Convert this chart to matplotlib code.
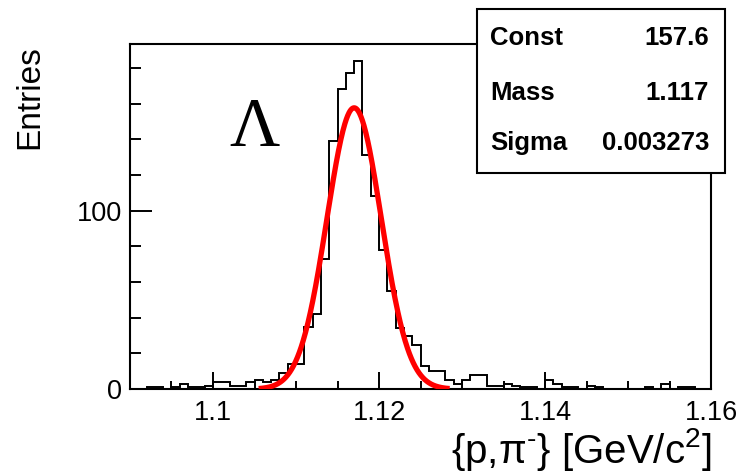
import numpy as np
import matplotlib.pyplot as plt
from matplotlib.ticker import MultipleLocator
from matplotlib.patches import Rectangle

plt.rcParams['font.family'] = ['Liberation Sans', 'DejaVu Sans']
plt.rcParams['mathtext.fontset'] = 'custom'
plt.rcParams['mathtext.rm'] = 'Liberation Sans'
plt.rcParams['mathtext.it'] = 'Liberation Sans'

# bin contents, 70 bins of 0.001 between 1.09 and 1.16
counts = [0, 0, 1, 1, 0, 1, 3, 1, 1, 2,
          4, 4, 2, 2, 4, 5, 4, 5, 9, 14,
          14, 35, 42, 73, 139, 168, 177, 184, 131, 108,
          78, 55, 34, 30, 25, 13, 10, 10, 5, 3,
          5, 8, 8, 2, 2, 3, 2, 1, 1, 0,
          5, 3, 1, 1, 0, 2, 1, 0, 0, 0,
          0, 0, 1, 0, 3, 0, 1, 1, 0, 0]
x_min = 1.09
x_max = 1.16
n_bins = 70

# gaussian fit
fit_names = ['Const', 'Mass', 'Sigma']
fit_values = ['157.6', '1.117', '0.003273']
const = 157.6
mass = 1.117
sigma = 0.003273
fit_lo = 1.1055
fit_hi = 1.1285

x_ticks = [1.1, 1.12, 1.14, 1.16]
x_tick_labels = ['1.1', '1.12', '1.14', '1.16']
y_ticks = [0, 100]
y_tick_labels = ['0', '100']


def gaus(x):
    return const * np.exp(-0.5 * ((x - mass) / sigma) ** 2)


def plot_mass():
    fig = plt.figure(figsize=(7.47, 4.74), dpi=100)
    ax = fig.add_axes([0.174, 0.179, 0.778, 0.728])

    edges = np.linspace(x_min, x_max, n_bins + 1)
    ax.stairs(counts, edges, color='black', lw=1.4, zorder=2)

    xf = np.linspace(fit_lo, fit_hi, 400)
    ax.plot(xf, gaus(xf), color='red', lw=3.8, zorder=3,
            solid_capstyle='butt')

    ax.set_xlim(x_min, x_max)
    ax.set_ylim(0, 193.3)
    ax.set_xticks(x_ticks, x_tick_labels)
    ax.set_yticks(y_ticks, y_tick_labels)
    ax.xaxis.set_minor_locator(MultipleLocator(0.005))
    ax.yaxis.set_minor_locator(MultipleLocator(20))
    ax.tick_params(which='both', direction='in', top=False, right=False,
                   width=1.4, labelsize=19.5)
    ax.tick_params(axis='x', which='major', length=12, pad=8)
    ax.tick_params(axis='x', which='minor', length=6)
    ax.tick_params(axis='y', which='major', length=16, pad=6)
    ax.tick_params(axis='y', which='minor', length=8)
    for s in ax.spines.values():
        s.set_linewidth(1.5)

    fig.text(0.040, 0.905, 'Entries', rotation=90, ha='center', va='top',
             fontsize=24)
    fig.text(0.953, 0.052, '{p,\u03c0$^{\u2010}$} [GeV/c$^{2}$]', ha='right',
             va='center', fontsize=29)

    fig.text(0.341, 0.728, '\u039b', ha='center', va='center',
             family='Liberation Serif', fontsize=50)

    # stats box
    box = Rectangle((0.6386, 0.635), 0.332, 0.346, transform=fig.transFigure,
                    fc='white', ec='black', lw=1.5, zorder=5)
    fig.add_artist(box)
    rows_y = [0.920, 0.803, 0.698]
    for name, val, yy in zip(fit_names, fit_values, rows_y):
        fig.text(0.656, yy, name, ha='left', va='center', fontsize=18.5,
                 fontweight='bold', zorder=6)
        fig.text(0.949, yy, val, ha='right', va='center', fontsize=18.5,
                 fontweight='bold', zorder=6)

    fig.savefig('out.png', dpi=100)


def main():
    plot_mass()


if __name__ == "__main__":
    main()
